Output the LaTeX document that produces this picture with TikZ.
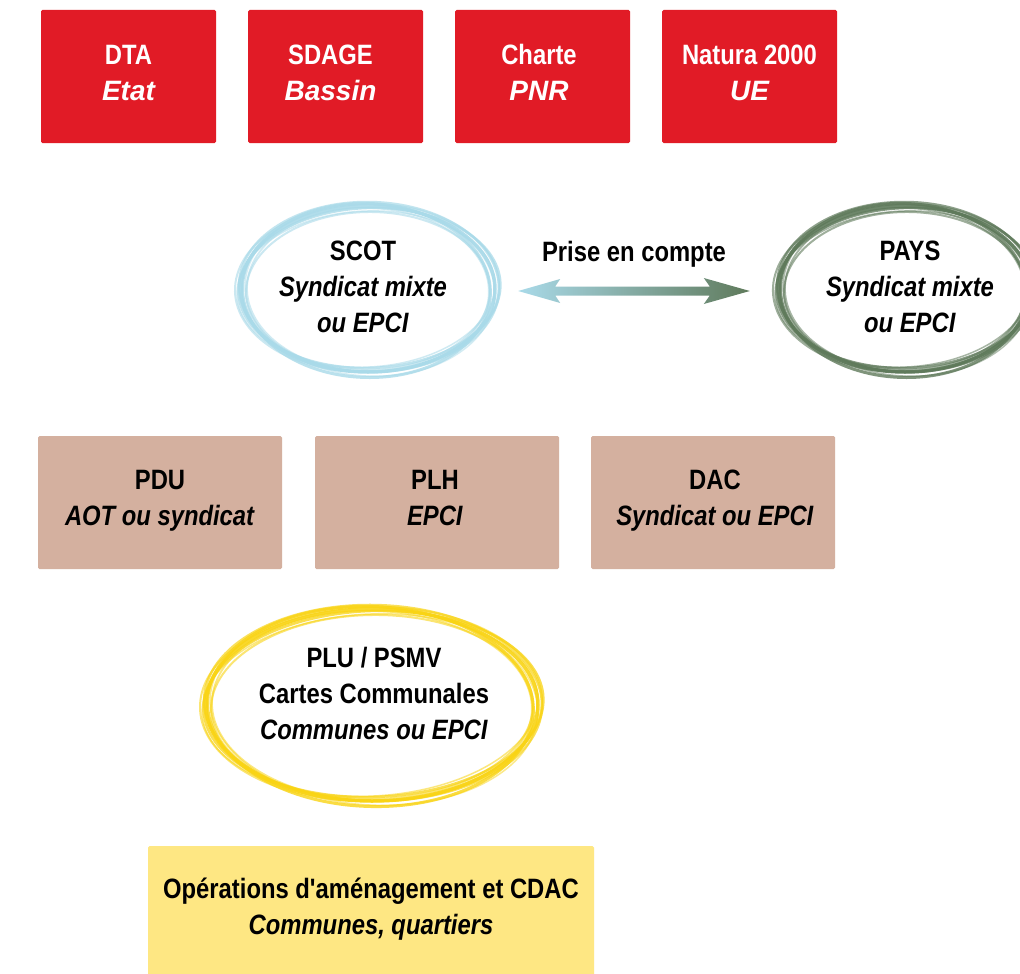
\documentclass[tikz,border=0pt]{standalone}
\usepackage{fontspec}
\setmainfont{Liberation Sans}[FakeStretch=0.85, Ligatures=TeXOff]
\newfontfamily\widefont{Liberation Sans}[Ligatures=TeXOff]
\usetikzlibrary{calc,shapes.geometric}
\definecolor{redbox}{HTML}{E11B26}
\definecolor{tanbox}{HTML}{D4B09F}
\definecolor{yelbox}{HTML}{FEE783}
\definecolor{ringblue}{HTML}{A9DAE9}
\definecolor{ringgreen}{HTML}{5F7A5B}
\definecolor{ringyellow}{HTML}{F9D414}
\newcommand\sketchring[4]{%
  \foreach \ang/\dx/\dy/\sx/\sy/\lw/\op in {0/0/0/0/0/3.5/0.9, 2/1.5/-1/4/-3/2.5/0.75, -2/-1.5/1.5/-3/4/3/0.8, 1/0/2/-5/-4/2/0.6, -1/1/-2/3/2/2.5/0.7, 3/-2/0/2/-5/1.5/0.55, -3/2/1/-2/3/1.5/0.5, 1.5/-1/-1/5/1/2/0.6, -1.5/0/1/-6/-1/1.8/0.55}
  {\draw[#4, line width=\lw pt, opacity=\op, rotate around={\ang:(#1)}]
     ($(#1)+(\dx,\dy)$) ellipse [x radius=#2+\sx, y radius=#3+\sy];}%
}
\begin{document}
\begin{tikzpicture}[x=1pt,y=-1pt,
  txt/.style={align=center, inner sep=0pt, font=\fontsize{28}{36}\selectfont\bfseries},
  topbox/.style={txt, fill=redbox, text=white, rounded corners=1.5pt, minimum width=175pt, minimum height=133pt},
  midbox/.style={txt, fill=tanbox, text=black, rounded corners=1.5pt, minimum width=244pt, minimum height=133pt},
  ringnode/.style={txt, ellipse, text=black}]
\useasboundingbox (0,0) rectangle (1020,974);
\fill[white] (0,0) rectangle (1020,974);

% top red boxes (text centred at y=74.8)
\node[topbox] (dta)    at (128.5,76.5) {};
\node[topbox] (sdage)  at (335.5,76.5) {};
\node[topbox] (charte) at (542.5,76.5) {};
\node[topbox] (natura) at (749.5,76.5) {};
\node[txt, text=white] (dtat)    at (128.5,74.8) {\strut DTA\\\strut{\widefont\itshape Etat}};
\node[txt, text=white] (sdaget)  at (330.5,74.8) {\strut SDAGE\\\strut{\widefont\itshape Bassin}};
\node[txt, text=white] (chartet) at (539,74.8) {\strut Charte\\\strut{\widefont\itshape PNR}};
\node[txt, text=white] (naturat) at (749.5,74.8) {\strut Natura 2000\\\strut{\widefont\itshape UE}};

% SCOT and PAYS rings
\node[ringnode, minimum width=256pt, minimum height=168pt] (scot) at (368,289) {};
\node[txt] (scottxt) at (363,289) {\strut SCOT\\\strut\textit{Syndicat mixte}\\\strut\textit{ou EPCI}};
\sketchring{scot.center}{127}{83}{ringblue}

\node[ringnode, minimum width=254pt, minimum height=168pt] (pays) at (905,289) {};
\node[txt] (paystxt) at (910,289) {\strut PAYS\\\strut\textit{Syndicat mixte}\\\strut\textit{ou EPCI}};
\sketchring{pays.center}{126}{83}{ringgreen}

% Prise en compte double arrow
\coordinate (L) at ($(scot.east)+(22,2)$);
\coordinate (R) at ($(pays.west)+(-28,2)$);
\shade[left color=ringblue, right color=ringgreen, middle color=ringblue!50!ringgreen]
  (L) -- ($(L)+(42,-12)$) -- ($(L)+(37,-4.5)$) -- ($(R)+(-40,-4.5)$) -- ($(R)+(-46,-13)$)
  -- (R) -- ($(R)+(-46,13)$) -- ($(R)+(-40,4.5)$) -- ($(L)+(37,4.5)$) -- ($(L)+(42,12)$) -- cycle;
\node[txt] (prise) at (634,254) {\strut Prise en compte};

% middle tan boxes
\node[midbox] (pdu) at (160,502.5) {};
\node[midbox] (plh) at (437,502.5) {};
\node[midbox] (dac) at (713,502.5) {};
\node[txt] (pdut) at (160,500) {\strut PDU\\\strut\textit{AOT ou syndicat}};
\node[txt] (plht) at (435,500) {\strut PLH\\\strut\textit{EPCI}};
\node[txt] (dact) at (715,500) {\strut DAC\\\strut\textit{Syndicat ou EPCI}};

% PLU ring
\node[txt] (plu) at (374,696) {\strut PLU / PSMV\\\strut Cartes Communales\\\strut\textit{Communes ou EPCI}};
\coordinate (pluring) at ($(plu.center)+(-2,9)$);
\sketchring{pluring}{166}{96}{ringyellow}

% bottom box
\fill[yelbox, rounded corners=1.5pt] (148,846) rectangle (594,990);
\node[txt] (ops) at (371,909) {\strut Opérations d'aménagement et CDAC\\\strut\textit{Communes, quartiers}};
\end{tikzpicture}
\end{document}
